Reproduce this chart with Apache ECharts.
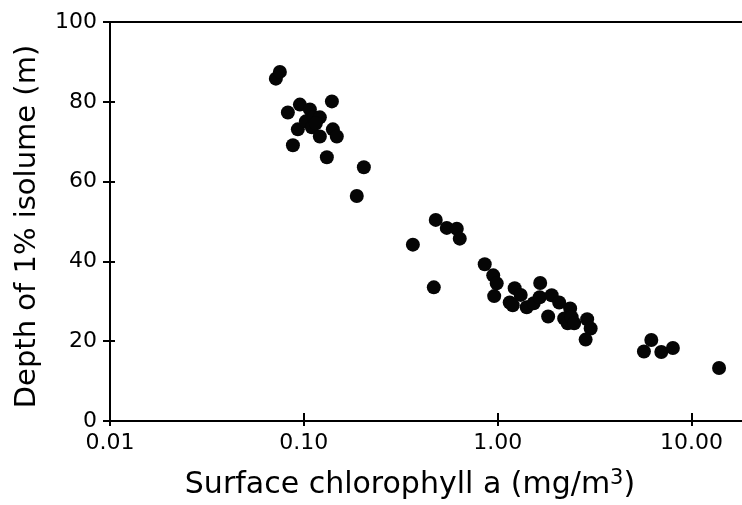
<!DOCTYPE html>
<html>
<head>
<meta charset="utf-8">
<script src="https://cdn.jsdelivr.net/npm/echarts@6/dist/echarts.min.js"></script>
<style>html,body{margin:0;padding:0;background:#fff;}#c{width:742px;height:505px;}</style>
</head>
<body>
<div id="c"></div>
<script>
// Surface chlorophyll a (mg/m3)
const chlorophyll = [
  0.0717, 0.0752, 0.0827, 0.0878, 0.0954, 0.0931, 0.1074, 0.1024, 0.1126, 0.1209,
  0.1100, 0.1209, 0.1395, 0.1411, 0.1479, 0.1314, 0.2039, 0.1875, 0.1153,
  0.479, 0.546, 0.615, 0.637, 0.365, 0.468,
  0.857, 0.948, 0.988, 0.959, 1.223, 1.314, 1.153, 1.195, 1.411, 1.533,
  1.656, 1.646, 1.898, 2.075, 1.820, 2.364, 2.202, 2.295, 2.406, 2.479,
  2.893, 3.016, 2.841,
  6.197, 5.678, 6.978, 8.009, 13.86
];
// Depth of 1% isolume (m)
const depth = [
  85.8, 87.5, 77.3, 69.1, 79.3, 73.1, 78.1, 75.1, 76.1, 76.1,
  73.6, 71.3, 80.1, 73.1, 71.3, 66.1, 63.6, 56.4, 74.6,
  50.4, 48.4, 48.2, 45.7, 44.2, 33.5,
  39.3, 36.5, 34.5, 31.3, 33.3, 31.6, 29.7, 29.0, 28.5, 29.5,
  34.6, 31.0, 31.5, 29.7, 26.2, 28.2, 25.7, 24.5, 26.0, 24.5,
  25.5, 23.2, 20.4,
  20.3, 17.4, 17.3, 18.3, 13.3
];
const xTickValues = [0.01, 0.1, 1, 10];
const xTickLabels = ['0.01', '0.10', '1.00', '10.00'];
const yTicks = [0, 20, 40, 60, 80, 100];

const points = chlorophyll.map((c, i) => [c, depth[i]]);
const font = 'DejaVu Sans';
const labelFor = v => {
  const i = xTickValues.findIndex(t => Math.abs(Math.log10(t) - Math.log10(v)) < 1e-6);
  return i >= 0 ? xTickLabels[i] : '';
};

const chart = echarts.init(document.getElementById('c'), null, {renderer: 'canvas'});
const xCommon = {
  type: 'log', logBase: 10, min: xTickValues[0], max: 18.2, gridIndex: 0,
  splitLine: {show: false}, minorTick: {show: false}
};
const yCommon = {
  type: 'value', min: yTicks[0], max: yTicks[yTicks.length - 1], interval: 20, gridIndex: 0,
  splitLine: {show: false}
};
chart.setOption({
  animation: false,
  backgroundColor: '#fff',
  grid: {left: 110, right: 0, top: 22, bottom: 82},
  xAxis: [
    Object.assign({}, xCommon, {
      position: 'bottom',
      axisLine: {show: true, lineStyle: {color: '#000', width: 2}},
      axisTick: {show: true, inside: false, length: 5, customValues: xTickValues, lineStyle: {color: '#000', width: 2}},
      axisLabel: {
        margin: 11, color: '#000', fontFamily: font, fontSize: 22,
        customValues: xTickValues,
        formatter: v => labelFor(v)
      },
      name: '{n|Surface chlorophyll a (mg/m}{s|3}{n|)}',
      nameLocation: 'middle', nameGap: 47,
      nameTextStyle: {
        color: '#000', fontFamily: font, fontSize: 30, padding: [0, 32, 0, 0],
        rich: {
          n: {fontFamily: font, fontSize: 30, color: '#000', lineHeight: 34},
          s: {fontFamily: font, fontSize: 21, color: '#000', lineHeight: 34, verticalAlign: 'top', padding: [0, 0, 10, 0]}
        }
      }
    }),
    Object.assign({}, xCommon, {
      position: 'bottom',
      axisLine: {show: false},
      axisTick: {show: true, inside: true, length: 8, customValues: xTickValues, lineStyle: {color: '#000', width: 2}},
      axisLabel: {show: false}
    }),
    Object.assign({}, xCommon, {
      position: 'top',
      axisLine: {show: true, lineStyle: {color: '#000', width: 2}},
      axisTick: {show: false},
      axisLabel: {show: false}
    })
  ],
  yAxis: [
    Object.assign({}, yCommon, {
      position: 'left',
      axisLine: {show: true, lineStyle: {color: '#000', width: 2}},
      axisTick: {show: true, inside: false, length: 7, lineStyle: {color: '#000', width: 2}},
      axisLabel: {margin: 13, color: '#000', fontFamily: font, fontSize: 22},
      name: 'Depth of 1% isolume (m)',
      nameLocation: 'middle', nameGap: 68,
      nameTextStyle: {color: '#000', fontFamily: font, fontSize: 29, padding: [0, 10, 0, 0]}
    }),
    Object.assign({}, yCommon, {
      position: 'left',
      axisLine: {show: false},
      axisTick: {show: true, inside: true, length: 5, lineStyle: {color: '#000', width: 2}},
      axisLabel: {show: false}
    })
  ],
  series: [{
    type: 'scatter',
    xAxisIndex: 0, yAxisIndex: 0,
    data: points,
    symbol: 'circle',
    symbolSize: 14,
    itemStyle: {color: '#050505', opacity: 1},
    clip: false
  }]
});
</script>
</body>
</html>
